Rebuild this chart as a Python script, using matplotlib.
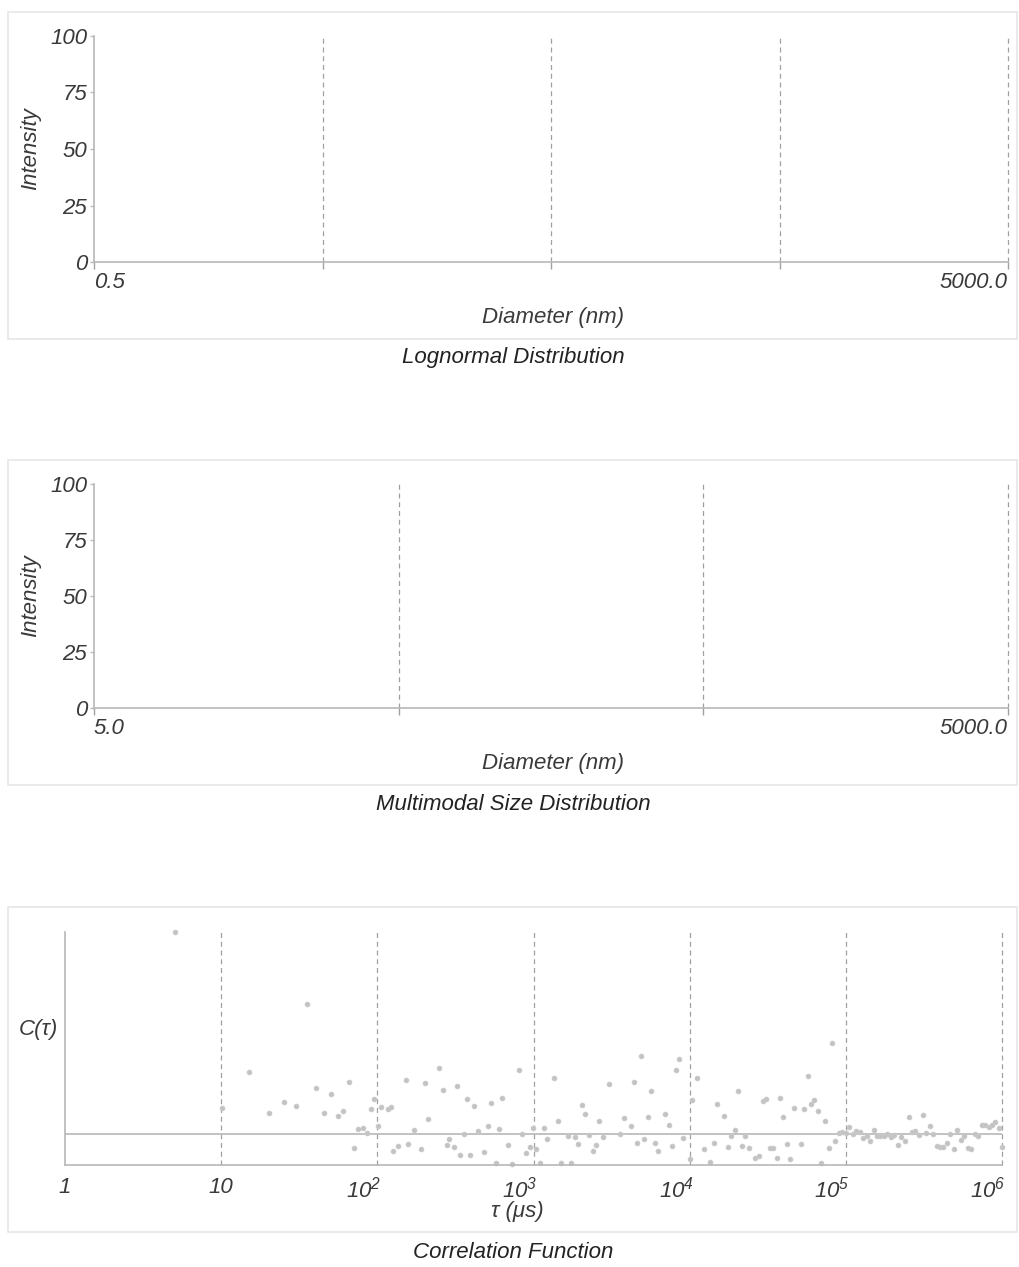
import numpy as np
import matplotlib
matplotlib.use("Agg")
import matplotlib.pyplot as plt
from matplotlib.patches import Rectangle
from matplotlib import transforms

plt.rcParams['font.family'] = ['Liberation Sans', 'DejaVu Sans']
plt.rcParams['mathtext.fontset'] = 'custom'
plt.rcParams['mathtext.rm'] = 'Liberation Sans:italic'
plt.rcParams['mathtext.it'] = 'Liberation Sans:italic'

# ---- data ----
intensity_ticks = [0, 25, 50, 75, 100]
lognormal_range = [0.5, 5000.0]
multimodal_range = [5.0, 5000.0]
tau_decades = [1, 10, 100, 1000, 10000, 100000, 1000000]
tau_labels = ['1', '10', '$10^2$', '$10^3$', '$10^4$', '$10^5$', '$10^6$']

# correlation function points: log10(tau / us) and C(tau) (baseline = 0)
log_tau = [0.704, 1.005, 1.178, 1.306, 1.402, 1.479, 1.549, 1.607, 1.658, 1.703,
           1.748, 1.780, 1.818, 1.850, 1.876, 1.908, 1.933, 1.959, 1.978, 2.004,
           2.023, 2.068, 2.087, 2.100, 2.132, 2.183, 2.196, 2.234, 2.279, 2.305,
           2.324, 2.394, 2.420, 2.446, 2.458, 2.490, 2.510, 2.529, 2.554, 2.574,
           2.593, 2.618, 2.644, 2.682, 2.708, 2.727, 2.759, 2.778, 2.798, 2.836,
           2.862, 2.907, 2.926, 2.951, 2.977, 2.996, 3.015, 3.041, 3.067, 3.086,
           3.131, 3.156, 3.175, 3.220, 3.239, 3.265, 3.284, 3.310, 3.329, 3.355,
           3.380, 3.399, 3.419, 3.444, 3.483, 3.553, 3.579, 3.624, 3.643, 3.662,
           3.688, 3.707, 3.732, 3.752, 3.777, 3.796, 3.841, 3.867, 3.886, 3.912,
           3.931, 3.956, 4.001, 4.014, 4.046, 4.091, 4.129, 4.155, 4.174, 4.219,
           4.245, 4.264, 4.289, 4.309, 4.334, 4.353, 4.379, 4.417, 4.443, 4.469,
           4.488, 4.513, 4.533, 4.558, 4.577, 4.597, 4.622, 4.641, 4.667, 4.712,
           4.731, 4.757, 4.776, 4.795, 4.821, 4.840, 4.866, 4.891, 4.910, 4.930,
           4.955, 4.974, 5.000, 5.019, 5.045, 5.064, 5.090, 5.109, 5.134, 5.154,
           5.179, 5.198, 5.218, 5.243, 5.262, 5.288, 5.307, 5.333, 5.352, 5.378,
           5.403, 5.422, 5.442, 5.467, 5.493, 5.512, 5.538, 5.557, 5.583, 5.602,
           5.621, 5.647, 5.666, 5.691, 5.711, 5.736, 5.755, 5.781, 5.800, 5.826,
           5.845, 5.871, 5.890, 5.915, 5.935, 5.954, 5.980, 5.999]
c_tau = [1.000, 0.129, 0.307, 0.104, 0.158, 0.139, 0.644, 0.228, 0.104, 0.198,
         0.089, 0.114, 0.257, -0.069, 0.025, 0.030, 0.005, 0.124, 0.173, 0.040,
         0.134, 0.124, 0.134, -0.084, -0.059, 0.267, -0.050, 0.020, -0.074, 0.252,
         0.074, 0.327, 0.218, -0.054, -0.025, -0.064, 0.238, -0.104, 0.000, 0.173,
         -0.104, 0.139, 0.015, -0.089, 0.040, 0.153, -0.144, 0.025, 0.178, -0.054,
         -0.149, 0.317, 0.000, -0.094, -0.064, 0.030, -0.074, -0.144, 0.030, -0.025,
         0.277, 0.064, -0.144, -0.010, -0.144, -0.015, -0.050, 0.144, 0.099, -0.005,
         -0.084, -0.054, 0.064, -0.015, 0.248, 0.000, 0.079, 0.040, 0.257, -0.045,
         0.386, -0.025, 0.084, 0.213, -0.045, -0.084, 0.099, 0.045, -0.059, 0.317,
         0.371, -0.020, -0.124, 0.168, 0.277, -0.074, -0.139, -0.045, 0.149, 0.089,
         -0.064, -0.010, 0.020, 0.213, -0.059, -0.010, -0.069, -0.119, -0.109, 0.163,
         0.173, -0.069, -0.069, -0.119, 0.178, 0.084, -0.050, -0.124, 0.129, -0.050,
         0.124, 0.287, 0.149, 0.168, 0.114, -0.144, 0.064, -0.069, 0.450, -0.035,
         0.005, 0.010, 0.005, 0.035, 0.000, 0.015, 0.010, -0.020, -0.010, -0.035,
         0.020, -0.010, -0.010, -0.010, 0.000, -0.015, -0.005, -0.054, -0.015, -0.035,
         0.084, 0.010, 0.015, -0.005, 0.094, 0.005, 0.040, 0.000, -0.059, -0.064,
         -0.064, -0.045, 0.000, -0.074, 0.020, -0.030, -0.010, -0.069, -0.074, 0.000,
         -0.010, 0.045, 0.045, 0.035, 0.045, 0.059, 0.030, -0.064]

W, H = 1019, 1267
TXT = '#3a3a3a'
AXC = '#b8b8b8'
GRID = '#a0a0a0'
FS = 16

fig = plt.figure(figsize=(W / 100, H / 100), dpi=100)


def fx(x):
    return x / W


def fy(y):
    return 1 - y / H


def box(top, bottom):
    fig.patches.append(Rectangle((fx(8), fy(bottom)), fx(1017) - fx(8), fy(top) - fy(bottom),
                                 transform=fig.transFigure, fill=False,
                                 edgecolor='#e6e6e6', lw=1.2))


def style(ax):
    for s in ['top', 'right']:
        ax.spines[s].set_visible(False)
    for s in ['left', 'bottom']:
        ax.spines[s].set_color(AXC)
        ax.spines[s].set_linewidth(1.2)
    ax.tick_params(colors=AXC, labelcolor=TXT, length=3, width=1, pad=2)
    ax.minorticks_off()


def size_panel(top, bottom, rng, title):
    box(top - 24, bottom + 77)
    ax = fig.add_axes([fx(94), fy(bottom), fx(1008) - fx(94), fy(top) - fy(bottom)])
    ax.set_xscale('log')
    ax.set_xlim(rng)
    ax.set_ylim(0, 100)
    style(ax)
    ax.set_yticks(intensity_ticks)
    ax.set_yticklabels([str(v) for v in intensity_ticks], fontsize=FS, style='italic')
    decades = np.logspace(np.log10(rng[0]), np.log10(rng[1]),
                          int(round(np.log10(rng[1] / rng[0]))) + 1)
    ax.set_xticks(decades)
    ax.set_xticklabels([])
    ax.tick_params(axis='x', length=5, color=GRID)
    for d in decades[1:]:
        ax.axvline(d, color=GRID, lw=0.9, ls=(0, (4, 3)), clip_on=False)
    tr = transforms.blended_transform_factory(ax.transData, ax.transAxes)
    ax.text(rng[0], -0.045, '%.1f' % rng[0], transform=tr, ha='left', va='top',
            fontsize=FS, style='italic', color=TXT)
    ax.text(rng[1], -0.045, '%.1f' % rng[1], transform=tr, ha='right', va='top',
            fontsize=FS, style='italic', color=TXT)
    ax.set_ylabel('Intensity', fontsize=FS, style='italic', color=TXT, labelpad=6)
    fig.text(fx(553), fy(bottom + 56), 'Diameter (nm)', ha='center', va='center',
             fontsize=FS, style='italic', color=TXT)
    fig.text(fx(513), fy(bottom + 96), title, ha='center', va='center',
             fontsize=FS, style='italic', color='#222222')
    return ax


size_panel(36, 262, lognormal_range, 'Lognormal Distribution')
size_panel(484, 708, multimodal_range, 'Multimodal Size Distribution')

# ---- correlation function ----
box(907, 1232)
ax3 = fig.add_axes([fx(65), fy(1165), fx(1002) - fx(65), fy(932) - fy(1165)])
ax3.set_xscale('log')
ax3.set_xlim(tau_decades[0], tau_decades[-1])
ax3.set_ylim(-0.153, 1.0)
style(ax3)
ax3.set_yticks([])
ax3.set_xticks(tau_decades)
ax3.set_xticklabels([])
ax3.tick_params(axis='x', length=0)
for d in tau_decades[1:]:
    ax3.axvline(d, color=GRID, lw=0.9, ls=(0, (4, 3)), clip_on=False)
ax3.axhline(0, color=AXC, lw=1.2)
tau = 10 ** np.array(log_tau)
ax3.plot(tau, c_tau, 'o', ms=3, color='#c2c2c2', mec='#c8c8c8', clip_on=False)
tr3 = transforms.blended_transform_factory(ax3.transData, ax3.transAxes)
for d, lab in zip(tau_decades, tau_labels):
    if d >= 100:
        off = transforms.ScaledTranslation(4 / 100, 0, fig.dpi_scale_trans)
        ax3.text(d, -0.05, lab, transform=tr3 + off, ha='right', va='top',
                 fontsize=FS, style='italic', color=TXT)
    else:
        ax3.text(d, -0.05, lab, transform=tr3, ha='center', va='top',
                 fontsize=FS, style='italic', color=TXT)
fig.text(fx(38), fy(1030), 'C(τ)', ha='center', va='center', fontsize=FS,
         style='italic', color=TXT)
fig.text(fx(517), fy(1212), 'τ (μs)', ha='center', va='center', fontsize=FS,
         style='italic', color=TXT)
fig.text(fx(513), fy(1252), 'Correlation Function', ha='center', va='center',
         fontsize=FS, style='italic', color='#222222')

fig.savefig('out.png', dpi=100, facecolor='white')
